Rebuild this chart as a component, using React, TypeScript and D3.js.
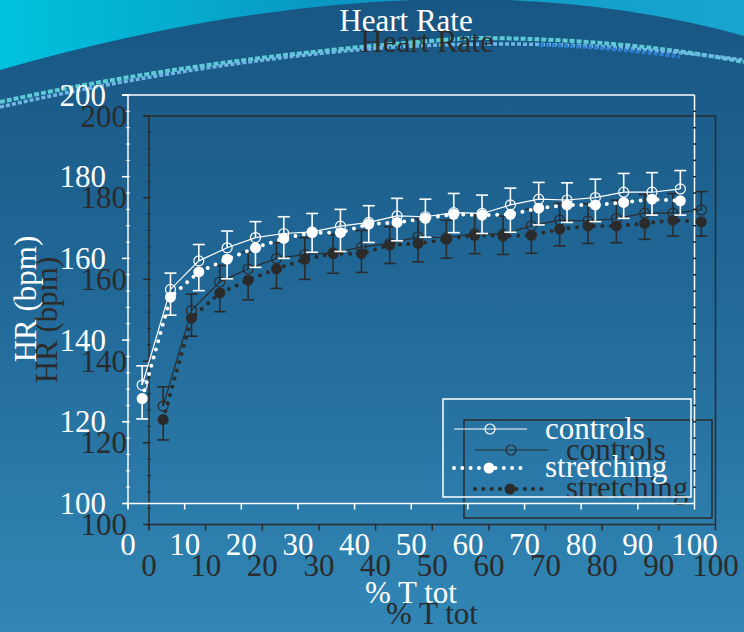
import React from 'react';
import * as d3 from 'd3';

const xValues = [2.5, 7.5, 12.5, 17.5, 22.5, 27.5, 32.5, 37.5, 42.5, 47.5, 52.5, 57.5, 62.5, 67.5, 72.5, 77.5, 82.5, 87.5, 92.5, 97.5];
const controls = [129.0, 152.4, 159.4, 162.6, 165.1, 166.1, 166.5, 167.9, 168.8, 170.4, 170.2, 171.2, 171.0, 173.1, 174.5, 174.3, 174.9, 176.2, 176.2, 177.0];
const controlsSD = [4.7, 4.0, 4.0, 4.1, 3.9, 4.1, 4.5, 4.1, 4.1, 4.3, 4.3, 4.7, 4.5, 4.1, 4.1, 4.2, 4.5, 4.6, 4.8, 4.5];
const stretching = [125.7, 150.5, 156.7, 159.8, 162.6, 164.9, 166.3, 166.3, 168.4, 168.8, 169.8, 170.8, 170.6, 170.8, 172.3, 173.1, 173.1, 173.7, 174.5, 174.1];
const stretchingSD = [5.0, 4.4, 4.6, 4.8, 4.8, 4.9, 4.8, 4.6, 4.5, 4.5, 4.6, 4.5, 4.5, 4.4, 4.1, 4.3, 4.1, 3.9, 3.9, 3.5];
const xTicks = [0, 10, 20, 30, 40, 50, 60, 70, 80, 90, 100];
const yTicks = [100, 120, 140, 160, 180, 200];
const yMinorTicks = d3.range(100, 201, 4);
const seriesNames = ['controls', 'stretching'];
const titleText = 'Heart Rate';
const xLabel = '% T tot';
const yLabel = 'HR (bpm)';

const W = 744;
const H = 632;
const FONT = '"Liberation Serif", "Times New Roman", serif';
const FS = 31;
const SHADOW = '#2b2b2b';

const x = d3.scaleLinear().domain([0, 100]).range([128, 694.5]);
const y = d3.scaleLinear().domain([100, 200]).range([503.5, 95]);

function Layer({ color, main }: { color: string; main: boolean }) {
  const ctrlPts: [number, number][] = xValues.map((v, i) => [x(v), y(controls[i])]);
  const strPts: [number, number][] = xValues.map((v, i) => [x(v), y(stretching[i])]);
  const line = d3.line();
  const left = x(0);
  const right = x(100);
  const top = y(200);
  const bottom = y(100);
  return (
    <g fontFamily={FONT} fill={color}>
      <text x={406} y={31} fontSize={FS} textAnchor="middle">{titleText}</text>
      {/* frame */}
      <line x1={left - 6} y1={top} x2={right} y2={top} stroke={color} strokeWidth={1.5} />
      <line x1={right} y1={top} x2={right} y2={bottom} stroke={color} strokeWidth={1.5} />
      <line x1={left} y1={top} x2={left} y2={bottom + 4} stroke={color} strokeWidth={1.5} />
      <line x1={left - 3} y1={bottom} x2={right} y2={bottom} stroke={color} strokeWidth={1.5} />
      {main && yMinorTicks.filter((t) => t > 100 && t < 200).map((t) => (
        <line key={'r' + t} x1={right - 1.5} x2={right + 1.5} y1={y(t)} y2={y(t)} stroke="#1e1e1e" strokeWidth={1.5} />
      ))}
      {yMinorTicks.map((t) => (
        <line key={'m' + t} x1={left - 2} x2={left + 2} y1={y(t)} y2={y(t)} stroke={color} strokeWidth={1} />
      ))}
      {yTicks.map((t) => (
        <g key={'y' + t}>
          <line x1={left - 6} x2={left} y1={y(t)} y2={y(t)} stroke={color} strokeWidth={1.5} />
          <text x={left - 22} y={y(t)} dy="0.34em" fontSize={FS} textAnchor="end">{t}</text>
        </g>
      ))}
      {xTicks.map((t) => (
        <g key={'x' + t}>
          <line x1={x(t)} x2={x(t)} y1={bottom} y2={bottom + 6} stroke={color} strokeWidth={1.5} />
          <text x={x(t)} y={555} fontSize={FS} textAnchor="middle">{t}</text>
        </g>
      ))}
      <text x={411} y={603} fontSize={FS} textAnchor="middle">{xLabel}</text>
      <text transform="translate(36,299) rotate(-90)" fontSize={FS} textAnchor="middle">{yLabel}</text>
      {/* series lines */}
      <path d={line(ctrlPts) || ''} fill="none" stroke={color} strokeWidth={1.2} />
      <path d={line(strPts) || ''} fill="none" stroke={color} strokeWidth={4} strokeDasharray="0 8.5" strokeLinecap="round" />
      {/* error bars */}
      {xValues.map((v, i) => {
        const cx = x(v);
        const ct = y(controls[i] + controlsSD[i]);
        const sb = y(stretching[i] - stretchingSD[i]);
        return (
          <g key={'e' + i} stroke={color} strokeWidth={1.6}>
            <line x1={cx} x2={cx} y1={ct} y2={y(controls[i])} />
            <line x1={cx - 6} x2={cx + 6} y1={ct} y2={ct} />
            <line x1={cx} x2={cx} y1={y(stretching[i])} y2={sb} />
            <line x1={cx - 6} x2={cx + 6} y1={sb} y2={sb} />
          </g>
        );
      })}
      {ctrlPts.map((p, i) => (
        <circle key={'c' + i} cx={p[0]} cy={p[1]} r={5} fill="none" stroke={color} strokeWidth={1.2} />
      ))}
      {strPts.map((p, i) => (
        <circle key={'s' + i} cx={p[0]} cy={p[1]} r={5.5} fill={color} />
      ))}
      {/* legend */}
      <rect x={443} y={399} width={248} height={98} fill="none" stroke={color} strokeWidth={1.5} />
      <line x1={454} x2={527} y1={429} y2={429} stroke={color} strokeWidth={1.2} />
      <circle cx={490} cy={429} r={5} fill="none" stroke={color} strokeWidth={1.2} />
      <text x={545} y={439} fontSize={FS}>{seriesNames[0]}</text>
      <line x1={454} x2={523} y1={468} y2={468} stroke={color} strokeWidth={4} strokeDasharray="0 8.3" strokeLinecap="round" />
      <circle cx={489} cy={468} r={5.5} fill={color} />
      <text x={545} y={477} fontSize={FS}>{seriesNames[1]}</text>
    </g>
  );
}

export default function App() {
  return (
    <svg width={W} height={H} viewBox={`0 0 ${W} ${H}`} style={{ position: 'absolute', left: 0, top: 0, display: 'block' }}>
      <defs>
        <linearGradient id="bg" x1="0" y1="0" x2="0" y2="1">
          <stop offset="0" stopColor="#185683" />
          <stop offset="0.5" stopColor="#226a99" />
          <stop offset="1" stopColor="#3287b6" />
        </linearGradient>
        <linearGradient id="cy" x1="0" y1="0" x2="1" y2="0">
          <stop offset="0" stopColor="#00c2de" />
          <stop offset="0.45" stopColor="#0a96c2" />
          <stop offset="1" stopColor="#18a6cf" />
        </linearGradient>
      </defs>
      <rect x={0} y={0} width={W} height={H} fill="url(#bg)" />
      <path d="M0,0 L0,70 Q428,-52 744,36 L744,0 Z" fill="url(#cy)" />
      <path d="M0,102 Q210,56 470,38 Q620,38 744,62" fill="none" stroke="#5ccbd4" strokeWidth={4} strokeDasharray="5 2" />
      <path d="M0,107 Q200,62 380,48 Q560,36 744,60" fill="none" stroke="#6fb6e6" strokeWidth={3.5} strokeDasharray="4 2" />
      <path d="M540,45 Q610,47 680,57" fill="none" stroke="#2f7fd2" strokeWidth={3.5} strokeDasharray="4 2" />
      <g transform="translate(21,21)">
        <Layer color={SHADOW} main={false} />
      </g>
      <Layer color="#ffffff" main={true} />
    </svg>
  );
}
